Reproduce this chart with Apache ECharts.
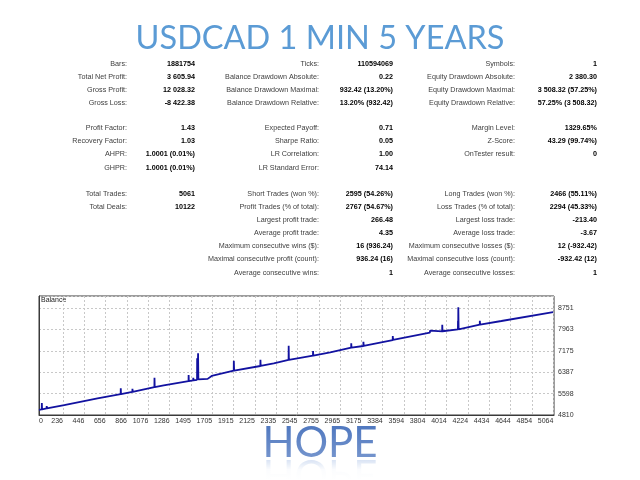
<!DOCTYPE html>
<html>
<head>
<meta charset="utf-8">
<script src="https://cdn.jsdelivr.net/npm/echarts@6/dist/echarts.min.js"></script>
<style>
  html, body { margin: 0; padding: 0; background: #fff; }
  #chart { width: 640px; height: 480px; }
</style>
</head>
<body>
<div id="chart"></div>
<script>
/************************        Report figures        **************************/
var rowY = [64, 77.5, 90.5, 103.5, 128, 141.5, 154.5, 168, 194, 207, 220, 233, 246.5, 259.5, 273];

var col1Labels = ['Bars:', 'Total Net Profit:', 'Gross Profit:', 'Gross Loss:', 'Profit Factor:', 'Recovery Factor:',
                  'AHPR:', 'GHPR:', 'Total Trades:', 'Total Deals:', '', '', '', '', ''];
var col1Values = ['1881754', '3 605.94', '12 028.32', '-8 422.38', '1.43', '1.03',
                  '1.0001 (0.01%)', '1.0001 (0.01%)', '5061', '10122', '', '', '', '', ''];

var col2Labels = ['Ticks:', 'Balance Drawdown Absolute:', 'Balance Drawdown Maximal:', 'Balance Drawdown Relative:',
                  'Expected Payoff:', 'Sharpe Ratio:', 'LR Correlation:', 'LR Standard Error:',
                  'Short Trades (won %):', 'Profit Trades (% of total):', 'Largest profit trade:', 'Average profit trade:',
                  'Maximum consecutive wins ($):', 'Maximal consecutive profit (count):', 'Average consecutive wins:'];
var col2Values = ['110594069', '0.22', '932.42 (13.20%)', '13.20% (932.42)', '0.71', '0.05', '1.00', '74.14',
                  '2595 (54.26%)', '2767 (54.67%)', '266.48', '4.35', '16 (936.24)', '936.24 (16)', '1'];

var col3Labels = ['Symbols:', 'Equity Drawdown Absolute:', 'Equity Drawdown Maximal:', 'Equity Drawdown Relative:',
                  'Margin Level:', 'Z-Score:', 'OnTester result:', '',
                  'Long Trades (won %):', 'Loss Trades (% of total):', 'Largest loss trade:', 'Average loss trade:',
                  'Maximum consecutive losses ($):', 'Maximal consecutive loss (count):', 'Average consecutive losses:'];
var col3Values = ['1', '2 380.30', '3 508.32 (57.25%)', '57.25% (3 508.32)', '1329.65%', '43.29 (99.74%)', '0', '',
                  '2466 (55.11%)', '2294 (45.33%)', '-213.40', '-3.67', '12 (-932.42)', '-932.42 (12)', '1'];

/************************        Balance curve        **************************/
var tradeNo = [0, 27, 28, 30, 75, 76, 78, 248, 576,
               804, 805, 807, 919, 920, 922, 1136, 1137, 1139, 1228,
               1472, 1473, 1475, 1518, 1519, 1521,
               1556, 1557, 1562, 1565, 1566, 1569, 1660, 1700,
               1917, 1918, 1921, 2179, 2180, 2182, 2311,
               2457, 2458, 2460, 2697, 2698, 2700, 2867,
               3073, 3074, 3076, 3193, 3194, 3196, 3482, 3483, 3485,
               3848, 3849, 3851, 3969, 3970, 3972,
               4124, 4125, 4127, 4128, 4131, 4339, 4340, 4342,
               4552, 4553, 4555, 5061];
var balance = [5000, 5015, 5250, 5018, 5050, 5140, 5052, 5177, 5425,
               5578, 5793, 5580, 5658, 5779, 5660, 5835, 6184, 5838, 5900,
               6055, 6283, 6058, 6085, 6184, 6088,
               6105, 6900, 6110, 6115, 7082, 6120, 6140, 6250,
               6440, 6810, 6445, 6615, 6847, 6618, 6714,
               6836, 7362, 6840, 6994, 7167, 6996, 7119,
               7290, 7451, 7292, 7351, 7510, 7353, 7572, 7720, 7574,
               7841, 7915, 7843, 7893, 8136, 7895,
               7960, 8280, 7965, 8777, 7968, 8136, 8283, 8138,
               8272, 8335, 8274, 8600];

var xTicks = [0, 236, 446, 656, 866, 1076, 1286, 1495, 1705, 1915, 2125, 2335, 2545,
              2755, 2965, 3175, 3384, 3594, 3804, 4014, 4224, 4434, 4644, 4854, 5064];
var yTicks = [4810, 5598, 6387, 7175, 7963, 8751];

var balanceData = tradeNo.map(function (t, i) { return [t, balance[i]]; });

/************************        Page texts        **************************/
var labelFont = '7.2px "Liberation Sans", Arial, sans-serif';
var valueFont = 'bold 7.2px "Liberation Sans", Arial, sans-serif';

var graphics = [];
function addText(txt, x, y, font, color, align) {
    if (!txt) return;
    graphics.push({
        type: 'text', x: x, y: y, silent: true,
        style: { text: txt, font: font, fill: color, textAlign: align, textVerticalAlign: 'middle' }
    });
}

var columns = [
    [col1Labels, col1Values, 127, 195],
    [col2Labels, col2Values, 319, 393],
    [col3Labels, col3Values, 515, 597]
];
columns.forEach(function (c) {
    rowY.forEach(function (y, i) {
        addText(c[0][i], c[2], y, labelFont, '#404040', 'right');
        addText(c[1][i], c[3], y, valueFont, '#000', 'right');
    });
});

// title
graphics.push({
    type: 'text', x: 320, y: 39, silent: true,
    style: { text: 'USDCAD 1 MIN 5 YEARS', font: '32.5px Lato, sans-serif', fill: '#5b9bd5',
             textAlign: 'center', textVerticalAlign: 'middle' }
});

// chart caption
addText('Balance', 41, 300, '7px "Liberation Sans", Arial, sans-serif', '#222', 'left');

// HOPE with a faint reflection
graphics.push({
    type: 'text', x: 320, y: 443, z: 10, silent: true,
    style: { text: 'HOPE', font: '42px Lato, sans-serif', fill: '#3b68b8',
             textAlign: 'center', textVerticalAlign: 'middle' }
});
graphics.push({
    type: 'text', x: 320, y: 474, scaleY: -1, z: 10, silent: true,
    style: { text: 'HOPE', font: '42px Lato, sans-serif', fill: 'rgba(70,120,200,0.22)',
             textAlign: 'center', textVerticalAlign: 'middle' }
});
graphics.push({
    type: 'rect', z: 11, silent: true,
    shape: { x: 260, y: 425, width: 130, height: 34 },
    style: { fill: new echarts.graphic.LinearGradient(0, 0, 0, 1, [
        { offset: 0, color: 'rgba(255,255,255,0.1)' },
        { offset: 1, color: 'rgba(255,255,255,0.3)' }
    ]) }
});
graphics.push({
    type: 'rect', z: 11, silent: true,
    shape: { x: 260, y: 459, width: 130, height: 21 },
    style: { fill: new echarts.graphic.LinearGradient(0, 0, 0, 1, [
        { offset: 0, color: 'rgba(255,255,255,0)' },
        { offset: 0.5, color: 'rgba(255,255,255,0.9)' },
        { offset: 1, color: 'rgba(255,255,255,1)' }
    ]) }
});

/************************        Chart        **************************/
var dom = document.getElementById('chart');
var myChart = echarts.init(dom);
var option = {
    animation: false,
    backgroundColor: '#fff',
    graphic: { elements: graphics },
    grid: {
        left: 39, right: 86, top: 296, bottom: 65,
        show: true, borderColor: '#3a3a3a', borderWidth: 1
    },
    xAxis: {
        type: 'value',
        min: 0,
        max: 5070,
        axisLine: { show: true, lineStyle: { color: '#3a3a3a' } },
        axisTick: { show: false, customValues: xTicks },
        axisLabel: {
            customValues: xTicks,
            fontSize: 7, color: '#333', margin: 3,
            align: 'right', alignMinLabel: 'left',
            fontFamily: '"Liberation Sans", Arial, sans-serif',
            formatter: function (v) { return String(v); }
        },
        splitLine: { show: true, lineStyle: { color: '#c8c8c8', type: [2, 2] } }
    },
    yAxis: {
        type: 'value',
        position: 'right',
        min: yTicks[0],
        max: 9193,
        interval: (yTicks[yTicks.length - 1] - yTicks[0]) / (yTicks.length - 1),
        axisLine: { show: true, lineStyle: { color: '#3a3a3a' } },
        axisTick: { show: false },
        axisLabel: {
            fontSize: 7, color: '#333', margin: 4, showMaxLabel: false,
            fontFamily: '"Liberation Sans", Arial, sans-serif',
            formatter: function (v) {
                var best = yTicks[0];
                yTicks.forEach(function (t) { if (Math.abs(t - v) < Math.abs(best - v)) best = t; });
                return best;
            }
        },
        splitLine: { show: true, lineStyle: { color: '#c8c8c8', type: [2, 2] } }
    },
    series: [
        {
            name: 'Balance',
            type: 'line',
            showSymbol: false,
            data: balanceData,
            lineStyle: { color: '#1212a0', width: 1.8 },
            itemStyle: { color: '#1212a0' }
        }
    ]
};
myChart.setOption(option);
</script>
</body>
</html>
